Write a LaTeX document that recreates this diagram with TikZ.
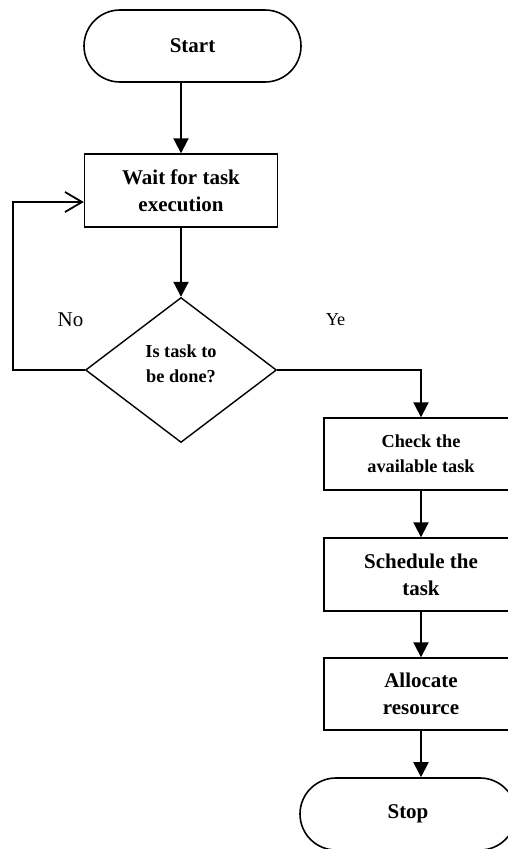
\documentclass[tikz,border=0pt]{standalone}
\usepackage{fontspec}
\setmainfont{Liberation Serif}
\usetikzlibrary{arrows.meta,shapes.geometric}
\tikzset{
  big/.style={font=\fontsize{21}{27}\selectfont\bfseries},
  small/.style={font=\fontsize{18.3}{25}\selectfont\bfseries},
  term/.style={draw, line width=1.6pt, rounded corners=36pt, minimum width=217pt, minimum height=72pt, inner sep=0pt, align=center},
  procbox/.style={draw, line width=1.4pt, minimum width=194pt, minimum height=72pt, inner sep=0pt, align=center},
  decision/.style={draw, line width=1.4pt, shape=diamond, minimum width=191pt, minimum height=145pt, inner sep=0pt, align=center},
  flow/.style={line width=2pt, -{Triangle[length=15pt,width=15pt]}},
  back/.style={line width=1.8pt, -{Straight Barb[length=17pt,width=20pt,line width=1.8pt]}},
  lbl/.style={font=\fontsize{21}{25}\selectfont}
}
\begin{document}
\begin{tikzpicture}[x=1pt,y=-1pt]
\useasboundingbox (0,0) rectangle (508,849);
\clip (0,0) rectangle (508,849);
\node[term, big] (start) at (192.5,46) {Start};
\node[procbox, big, minimum height=73pt, minimum width=193pt] (wait) at (181,190.5) {Wait for task\\execution};
\node[decision, small] (dec) at (181,370) {};
\node[small, align=center] (dectext) at (181,364) {Is task to\\be done?};
\node[procbox, small] (check) at (421,454) {Check the\\available task};
\node[procbox, big, minimum height=73pt] (sched) at (421,574.5) {Schedule the\\task};
\node[procbox, big] (alloc) at (421,694) {Allocate\\resource};
\node[term, big, minimum width=216pt] (stop) at (408,814) {Stop};
\node[lbl] (no) at (70.5,320) {No};
\node[lbl, font=\fontsize{18.3}{22}\selectfont] (ye) at (335.5,320) {Ye};
\coordinate (loopleft) at (13,370);

\draw[flow] (wait.north |- start.south) -- (wait.north);
\draw[flow] (wait.south) -- (dec.north);
\draw[back] (dec.west) -- (loopleft) |- ([yshift=-11.5pt]wait.west);
\draw[flow] (dec.east) -| (check.north);
\draw[flow] (check.south) -- (sched.north);
\draw[flow] (sched.south) -- (alloc.north);
\draw[flow] (alloc.south) -- (alloc.south |- stop.north);
\end{tikzpicture}
\end{document}
